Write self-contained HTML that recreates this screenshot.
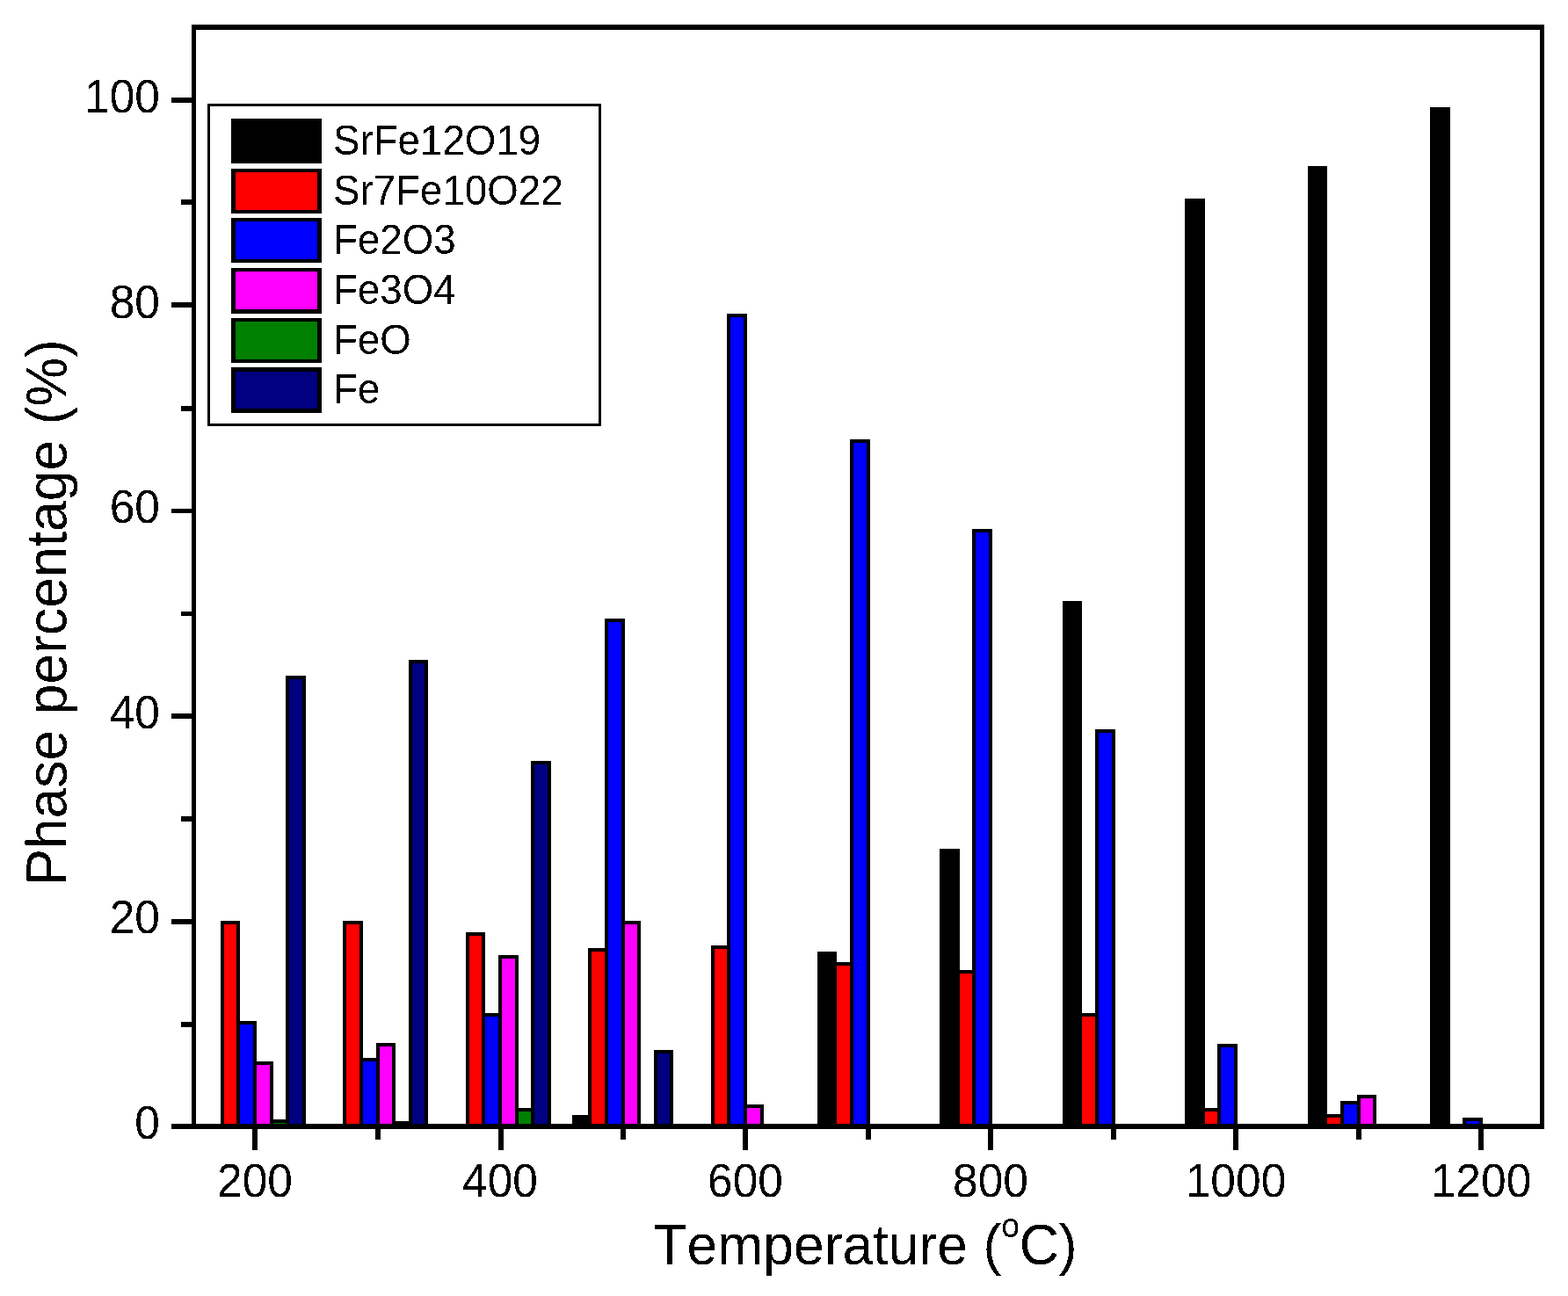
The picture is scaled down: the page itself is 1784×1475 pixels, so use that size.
<!DOCTYPE html>
<html><head><meta charset="utf-8"><title>Phase percentage vs Temperature</title>
<style>
html,body{margin:0;padding:0;background:#fff;}
body{width:1784px;height:1475px;overflow:hidden;}
svg{display:block;}
text{font-kerning:none;}
</style></head>
<body>
<svg width="1784" height="1475" viewBox="0 0 1784 1475">
<rect width="1784" height="1475" fill="#fff"/>
<g stroke="#000" stroke-width="4.00" stroke-linejoin="miter" shape-rendering="crispEdges">
<rect x="252.80" y="1050.20" width="18.60" height="231.80" fill="#ff0000"/>
<rect x="271.40" y="1163.73" width="18.60" height="118.27" fill="#0000ff"/>
<rect x="290.00" y="1209.75" width="18.60" height="72.25" fill="#ff00ff"/>
<rect x="308.60" y="1275.74" width="18.60" height="6.26" fill="#008000"/>
<rect x="327.20" y="771.28" width="18.60" height="510.72" fill="#000080"/>
<rect x="392.30" y="1050.20" width="18.60" height="231.80" fill="#ff0000"/>
<rect x="410.90" y="1205.78" width="18.60" height="76.22" fill="#0000ff"/>
<rect x="429.50" y="1189.43" width="18.60" height="92.57" fill="#ff00ff"/>
<rect x="448.10" y="1277.73" width="18.60" height="4.27" fill="#008000"/>
<rect x="466.70" y="753.18" width="18.60" height="528.82" fill="#000080"/>
<rect x="531.80" y="1062.70" width="18.60" height="219.30" fill="#ff0000"/>
<rect x="550.40" y="1155.21" width="18.60" height="126.79" fill="#0000ff"/>
<rect x="569.00" y="1089.45" width="18.60" height="192.55" fill="#ff00ff"/>
<rect x="587.60" y="1263.25" width="18.60" height="18.75" fill="#008000"/>
<rect x="606.20" y="867.99" width="18.60" height="414.01" fill="#000080"/>
<rect x="652.70" y="1270.72" width="18.60" height="11.28" fill="#000000"/>
<rect x="671.30" y="1080.80" width="18.60" height="201.20" fill="#ff0000"/>
<rect x="689.90" y="705.88" width="18.60" height="576.12" fill="#0000ff"/>
<rect x="708.50" y="1049.97" width="18.60" height="232.03" fill="#ff00ff"/>
<rect x="745.70" y="1197.02" width="18.60" height="84.98" fill="#000080"/>
<rect x="810.80" y="1078.00" width="18.60" height="204.00" fill="#ff0000"/>
<rect x="829.40" y="359.10" width="18.60" height="922.90" fill="#0000ff"/>
<rect x="848.00" y="1259.16" width="18.60" height="22.84" fill="#ff00ff"/>
<rect x="931.70" y="1085.13" width="18.60" height="196.87" fill="#000000"/>
<rect x="950.30" y="1097.04" width="18.60" height="184.96" fill="#ff0000"/>
<rect x="968.90" y="502.18" width="18.60" height="779.82" fill="#0000ff"/>
<rect x="1071.20" y="968.09" width="18.60" height="313.91" fill="#000000"/>
<rect x="1089.80" y="1105.68" width="18.60" height="176.32" fill="#ff0000"/>
<rect x="1108.40" y="604.26" width="18.60" height="677.74" fill="#0000ff"/>
<rect x="1210.70" y="686.02" width="18.60" height="595.98" fill="#000000"/>
<rect x="1229.30" y="1154.74" width="18.60" height="127.26" fill="#ff0000"/>
<rect x="1247.90" y="832.49" width="18.60" height="449.51" fill="#0000ff"/>
<rect x="1350.20" y="228.05" width="18.60" height="1053.95" fill="#000000"/>
<rect x="1368.80" y="1263.01" width="18.60" height="18.99" fill="#ff0000"/>
<rect x="1387.40" y="1190.01" width="18.60" height="91.99" fill="#0000ff"/>
<rect x="1489.70" y="190.90" width="18.60" height="1091.10" fill="#000000"/>
<rect x="1508.30" y="1269.67" width="18.60" height="12.33" fill="#ff0000"/>
<rect x="1526.90" y="1255.07" width="18.60" height="26.93" fill="#0000ff"/>
<rect x="1545.50" y="1248.18" width="18.60" height="33.82" fill="#ff00ff"/>
<rect x="1629.20" y="123.98" width="18.60" height="1158.02" fill="#000000"/>
<rect x="1666.40" y="1273.99" width="18.60" height="8.01" fill="#0000ff"/>
</g>
<g fill="#000" shape-rendering="crispEdges">
<rect x="218" y="28" width="1539" height="6"/>
<rect x="1752" y="28" width="5" height="1257"/>
<rect x="218" y="28" width="5" height="1257"/>
<rect x="195" y="1279" width="1562" height="6"/>
<rect x="195" y="111" width="24" height="6"/>
<rect x="206" y="227" width="13" height="6"/>
<rect x="195" y="344" width="24" height="6"/>
<rect x="206" y="462" width="13" height="6"/>
<rect x="195" y="579" width="24" height="5"/>
<rect x="206" y="696" width="13" height="5"/>
<rect x="195" y="812" width="24" height="6"/>
<rect x="206" y="929" width="13" height="6"/>
<rect x="195" y="1046" width="24" height="6"/>
<rect x="206" y="1163" width="13" height="6"/>
<rect x="287" y="1284" width="6" height="25"/>
<rect x="427" y="1284" width="6" height="13"/>
<rect x="567" y="1284" width="6" height="25"/>
<rect x="706" y="1284" width="6" height="13"/>
<rect x="845" y="1284" width="6" height="25"/>
<rect x="985" y="1284" width="6" height="13"/>
<rect x="1124" y="1284" width="6" height="25"/>
<rect x="1264" y="1284" width="6" height="13"/>
<rect x="1403" y="1284" width="6" height="25"/>
<rect x="1543" y="1284" width="6" height="13"/>
<rect x="1682" y="1284" width="6" height="25"/>
</g>
<rect x="237.5" y="119.5" width="445" height="364" fill="#fff" stroke="#000" stroke-width="3" shape-rendering="crispEdges"/>
<g shape-rendering="crispEdges">
<rect x="263" y="135" width="103" height="51" fill="#000"/>
<rect x="268" y="139" width="93" height="43" fill="#000000"/>
<rect x="263" y="192" width="103" height="51" fill="#000"/>
<rect x="268" y="196" width="93" height="43" fill="#ff0000"/>
<rect x="263" y="248" width="103" height="51" fill="#000"/>
<rect x="268" y="252" width="93" height="43" fill="#0000ff"/>
<rect x="263" y="305" width="103" height="52" fill="#000"/>
<rect x="268" y="309" width="93" height="43" fill="#ff00ff"/>
<rect x="263" y="362" width="103" height="51" fill="#000"/>
<rect x="268" y="366" width="93" height="43" fill="#008000"/>
<rect x="263" y="418" width="103" height="52" fill="#000"/>
<rect x="268" y="423" width="93" height="42" fill="#000080"/>
</g>
<defs><filter id="crisp" x="0" y="0" width="1784" height="1475" filterUnits="userSpaceOnUse" color-interpolation-filters="sRGB"><feComponentTransfer><feFuncA type="discrete" tableValues="0 1"/></feComponentTransfer></filter></defs>
<g filter="url(#crisp)" font-family="'Liberation Sans', Arial, Helvetica, sans-serif" fill="#000">
<g font-size="51.5">
<text transform="translate(182,1296.00) scale(1,1.040)" text-anchor="end">0</text>
<text transform="translate(182,1062.40) scale(1,1.040)" text-anchor="end">20</text>
<text transform="translate(182,828.80) scale(1,1.040)" text-anchor="end">40</text>
<text transform="translate(182,595.20) scale(1,1.040)" text-anchor="end">60</text>
<text transform="translate(182,361.60) scale(1,1.040)" text-anchor="end">80</text>
<text transform="translate(182,128.00) scale(1,1.040)" text-anchor="end">100</text>
<text transform="translate(290.00,1362) scale(1,1.040)" text-anchor="middle">200</text>
<text transform="translate(569.00,1362) scale(1,1.040)" text-anchor="middle">400</text>
<text transform="translate(848.00,1362) scale(1,1.040)" text-anchor="middle">600</text>
<text transform="translate(1127.00,1362) scale(1,1.040)" text-anchor="middle">800</text>
<text transform="translate(1406.00,1362) scale(1,1.040)" text-anchor="middle">1000</text>
<text transform="translate(1685.00,1362) scale(1,1.040)" text-anchor="middle">1200</text>
</g>
<text font-size="62.5" transform="translate(984.5,1439) scale(1,1.045)" text-anchor="middle">Temperature (<tspan font-size="37" dy="-30">o</tspan><tspan dy="30">C)</tspan></text>
<text font-size="62.5" transform="translate(75.1,697) rotate(-90) scale(1,1.045)" text-anchor="middle">Phase percentage (%)</text>
<text font-size="45.7" transform="translate(379,176.10) scale(1,1.035)">SrFe12O19</text>
<text font-size="45.7" transform="translate(379,232.70) scale(1,1.035)">Sr7Fe10O22</text>
<text font-size="45.7" transform="translate(379,289.30) scale(1,1.035)">Fe2O3</text>
<text font-size="45.7" transform="translate(379,345.90) scale(1,1.035)">Fe3O4</text>
<text font-size="45.7" transform="translate(379,402.50) scale(1,1.035)">FeO</text>
<text font-size="45.7" transform="translate(379,459.10) scale(1,1.035)">Fe</text>
</g>
</svg>
</body></html>
